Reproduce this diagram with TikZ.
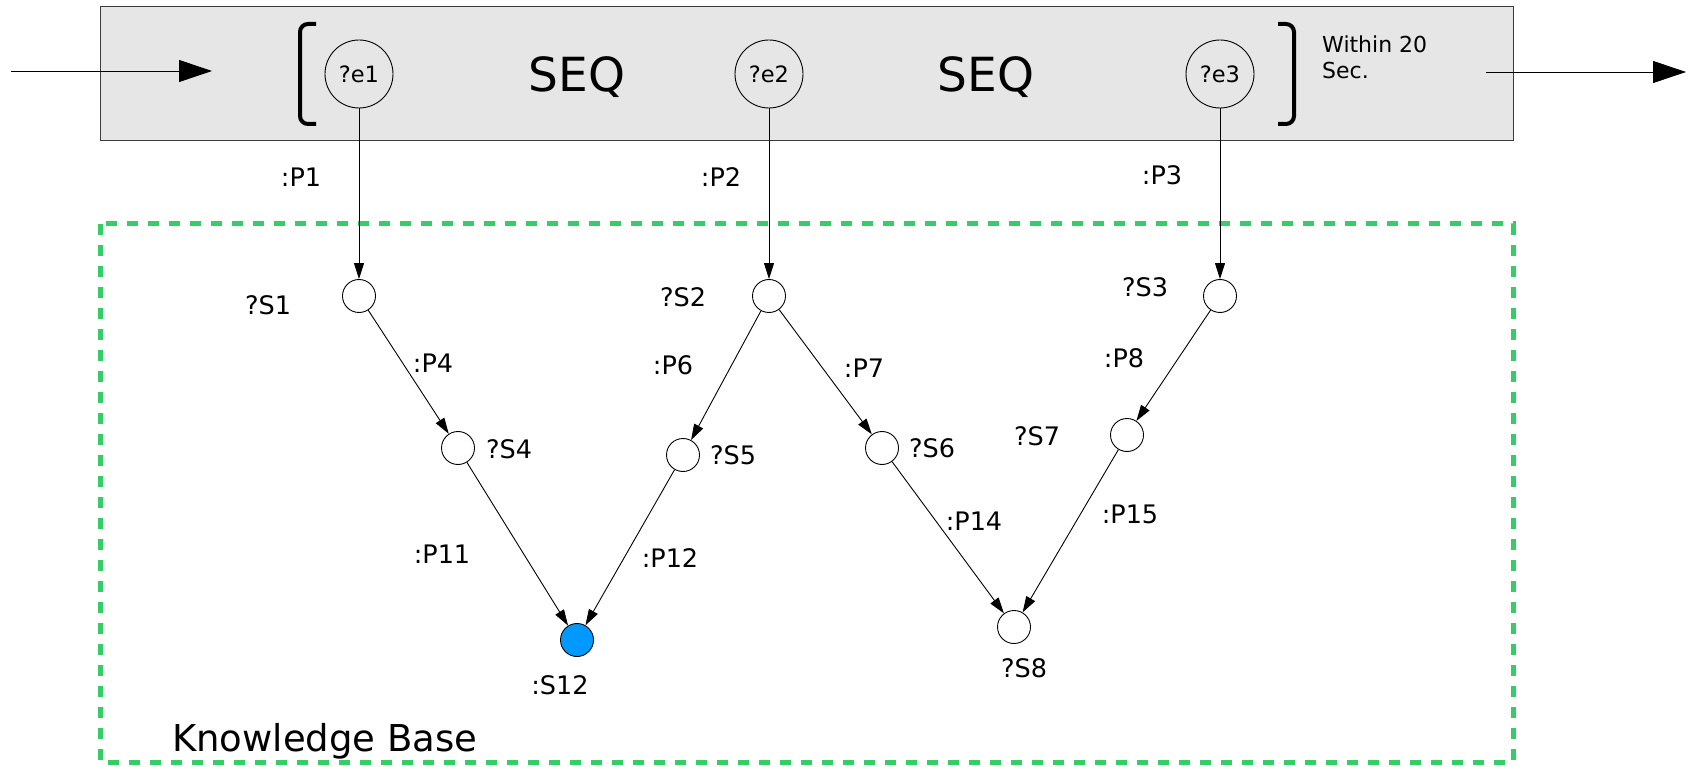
\documentclass[tikz,border=0pt]{standalone}
\usepackage{fontspec}
\setmainfont{DejaVu Sans}
\usetikzlibrary{arrows.meta}
\definecolor{kbgreen}{RGB}{52,205,102}
\definecolor{seqgray}{RGB}{230,230,230}
\definecolor{frameline}{RGB}{60,60,60}
\definecolor{resblue}{RGB}{0,153,255}
\tikzset{
  evnode/.style={circle,draw=black,line width=0.9pt,minimum size=68pt,inner sep=0pt,font=\fontsize{22.5}{26}\selectfont},
  snode/.style={circle,draw=black,line width=0.9pt,minimum size=33pt,inner sep=0pt},
  lbl/.style={inner sep=0pt,font=\fontsize{25.5}{29}\selectfont},
  edge/.style={draw=black,line width=0.9pt,-{Triangle[length=16pt,width=10pt]}},
  bigarrow/.style={draw=black,line width=0.9pt,-{Triangle[length=33pt,width=22pt]}},
  brack/.style={draw=black,line width=4pt,rounded corners=8pt},
}
\begin{document}
\begin{tikzpicture}[x=1pt,y=-1pt]
\useasboundingbox (0,0) rectangle (1690,767);
% sequence box
\draw[fill=seqgray,draw=frameline,line width=1pt] (100,7) rectangle (1513,141);
% knowledge base
\draw[kbgreen,line width=5pt,dash pattern=on 11pt off 10pt] (100,224) rectangle (1513,762);
\node[inner sep=0pt,anchor=base west,font=\fontsize{37}{40}\selectfont] (kb) at (172,751) {Knowledge Base};
% in/out arrows
\coordinate (inA) at (11,71);
\coordinate (inB) at (212,71);
\coordinate (outA) at (1486,72);
\coordinate (outB) at (1686,72);
\draw[bigarrow] (inA) -- (inB);
\draw[bigarrow] (outA) -- (outB);
% brackets
\draw[brack] (316,24) -- (300,24) -- (300,124) -- (316,124);
\draw[brack] (1278,24) -- (1294,24) -- (1294,124) -- (1278,124);
% event nodes
\node[evnode] (e1) at (359,74) {?e1};
\node[evnode] (e2) at (769,74) {?e2};
\node[evnode] (e3) at (1220,74) {?e3};
\node[inner sep=0pt,font=\fontsize{47}{50}\selectfont] (seq1) at (577,77) {SEQ};
\node[inner sep=0pt,font=\fontsize{47}{50}\selectfont] (seq2) at (986,77) {SEQ};
\node[inner sep=0pt,anchor=north west,align=left,font=\fontsize{22}{26}\selectfont] (within) at (1322,36) {Within 20\\Sec.};
% state nodes
\node[snode] (s1) at (359,296) {};
\node[snode] (s2) at (769,296) {};
\node[snode] (s3) at (1220,296) {};
\node[snode] (s4) at (458,448) {};
\node[snode] (s5) at (683,455) {};
\node[snode] (s6) at (882,448) {};
\node[snode] (s7) at (1127,435) {};
\node[snode,fill=resblue] (s12) at (577,640) {};
\node[snode] (s8) at (1014,627) {};
% labels
\node[lbl] (p1) at (301,177) {:P1};
\node[lbl] (p2) at (721,177) {:P2};
\node[lbl] (p3) at (1162,175) {:P3};
\node[lbl] (ls1) at (268,305) {?S1};
\node[lbl] (ls2) at (683,297) {?S2};
\node[lbl] (ls3) at (1145,287) {?S3};
\node[lbl] (p4) at (433,363) {:P4};
\node[lbl] (p6) at (673,365) {:P6};
\node[lbl] (p7) at (864,368) {:P7};
\node[lbl] (p8) at (1124,358) {:P8};
\node[lbl] (ls4) at (509,449) {?S4};
\node[lbl] (ls5) at (733,455) {?S5};
\node[lbl] (ls6) at (932,448) {?S6};
\node[lbl] (ls7) at (1037,436) {?S7};
\node[lbl] (p11) at (442,554) {:P11};
\node[lbl] (p12) at (670,558) {:P12};
\node[lbl] (p14) at (974,521) {:P14};
\node[lbl] (p15) at (1130,514) {:P15};
\node[lbl] (ls12) at (560,685) {:S12};
\node[lbl] (ls8) at (1024,668) {?S8};
% connectors
\draw[edge] (e1) -- (s1);
\draw[edge] (e2) -- (s2);
\draw[edge] (e3) -- (s3);
\draw[edge] (s1) -- (s4);
\draw[edge] (s2) -- (s5);
\draw[edge] (s2) -- (s6);
\draw[edge] (s3) -- (s7);
\draw[edge] (s4) -- (s12);
\draw[edge] (s5) -- (s12);
\draw[edge] (s6) -- (s8);
\draw[edge] (s7) -- (s8);
\end{tikzpicture}
\end{document}
